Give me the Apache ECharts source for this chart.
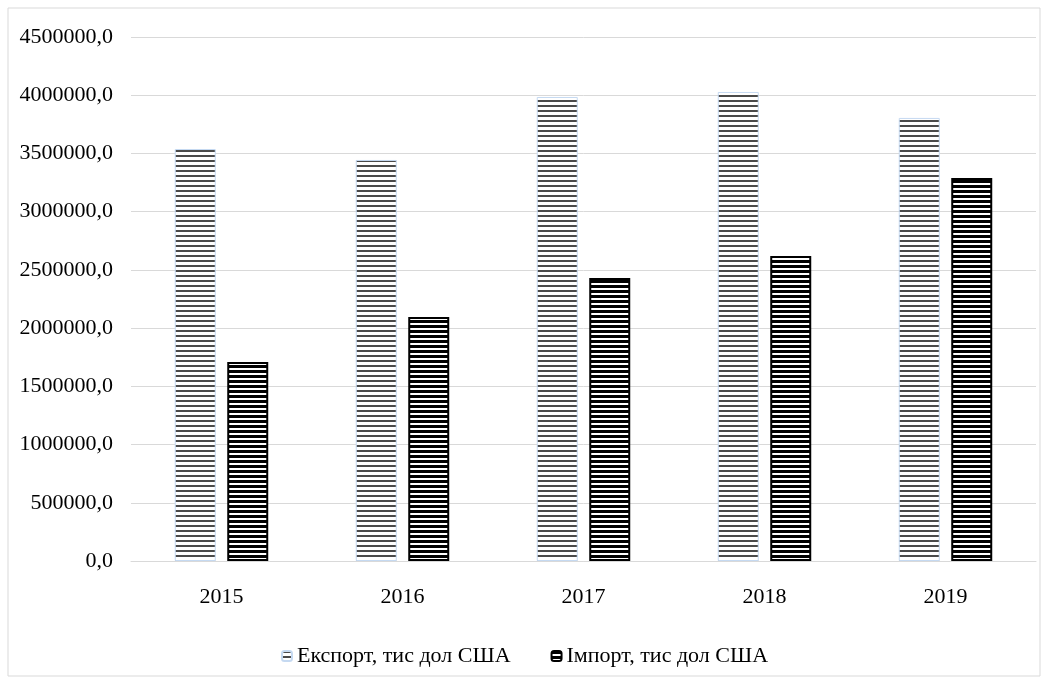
<!DOCTYPE html>
<html>
<head>
<meta charset="utf-8">
<script src="https://cdn.jsdelivr.net/npm/echarts@6/dist/echarts.min.js"></script>
<style>
html, body { margin: 0; padding: 0; background: #fff; }
#main { width: 1049px; height: 684px; }
</style>
</head>
<body>
<div id="main"></div>
<script>
var years = ['2015', '2016', '2017', '2018', '2019'];
var exportVals = [3538000, 3444000, 3985000, 4028000, 3805000];
var importVals = [1709000, 2096000, 2430000, 2619000, 3289000];
var seriesNames = ['Експорт, тис дол США', 'Імпорт, тис дол США'];

// horizontal stripes as canvas pattern
function stripes(line, lineH, period) {
    var c = document.createElement('canvas');
    c.width = 4;
    c.height = period;
    var ctx = c.getContext('2d');
    ctx.fillStyle = '#ffffff';
    ctx.fillRect(0, 0, 4, period);
    ctx.fillStyle = line;
    ctx.fillRect(0, 0, 4, lineH);
    return { image: c, repeat: 'repeat' };
}

var font = '"Liberation Serif", "Times New Roman", serif';

var option = {
    backgroundColor: '#fff',
    animation: false,
    graphic: [{
        type: 'rect',
        shape: { x: 8, y: 8, width: 1032, height: 668 },
        style: { fill: 'none', stroke: '#d9d9d9', lineWidth: 1 },
        silent: true
    }],
    grid: { left: 131, right: 13, top: 37, bottom: 123 },
    legend: {
        top: 640,
        left: 'center',
        itemWidth: 10,
        itemHeight: 10,
        itemGap: 40,
        textStyle: { fontFamily: font, fontSize: 22, color: '#000' },
        data: seriesNames
    },
    xAxis: {
        type: 'category',
        data: years,
        axisLine: { lineStyle: { color: '#d9d9d9' } },
        axisTick: { show: false },
        axisLabel: { fontFamily: font, fontSize: 22, color: '#000', margin: 25 }
    },
    yAxis: {
        type: 'value',
        min: 0,
        max: 4500000,
        interval: 500000,
        axisLine: { show: false },
        axisTick: { show: false },
        splitLine: { lineStyle: { color: '#d9d9d9' } },
        axisLabel: {
            fontFamily: font, fontSize: 22, color: '#000', margin: 18,
            formatter: function (v) { return v + ',0'; }
        }
    },
    series: [{
        name: seriesNames[0],
        type: 'bar',
        data: exportVals,
        barWidth: 41,
        barGap: '28%',
        itemStyle: {
            color: stripes('#4a4a4a', 2, 5),
            borderColor: '#c5d9f1',
            borderWidth: 1
        }
    }, {
        name: seriesNames[1],
        type: 'bar',
        data: importVals,
        barWidth: 41,
        itemStyle: {
            color: stripes('#000000', 3, 5),
            borderColor: '#000',
            borderWidth: 2
        }
    }]
};

echarts.init(document.getElementById('main')).setOption(option);
</script>
</body>
</html>
